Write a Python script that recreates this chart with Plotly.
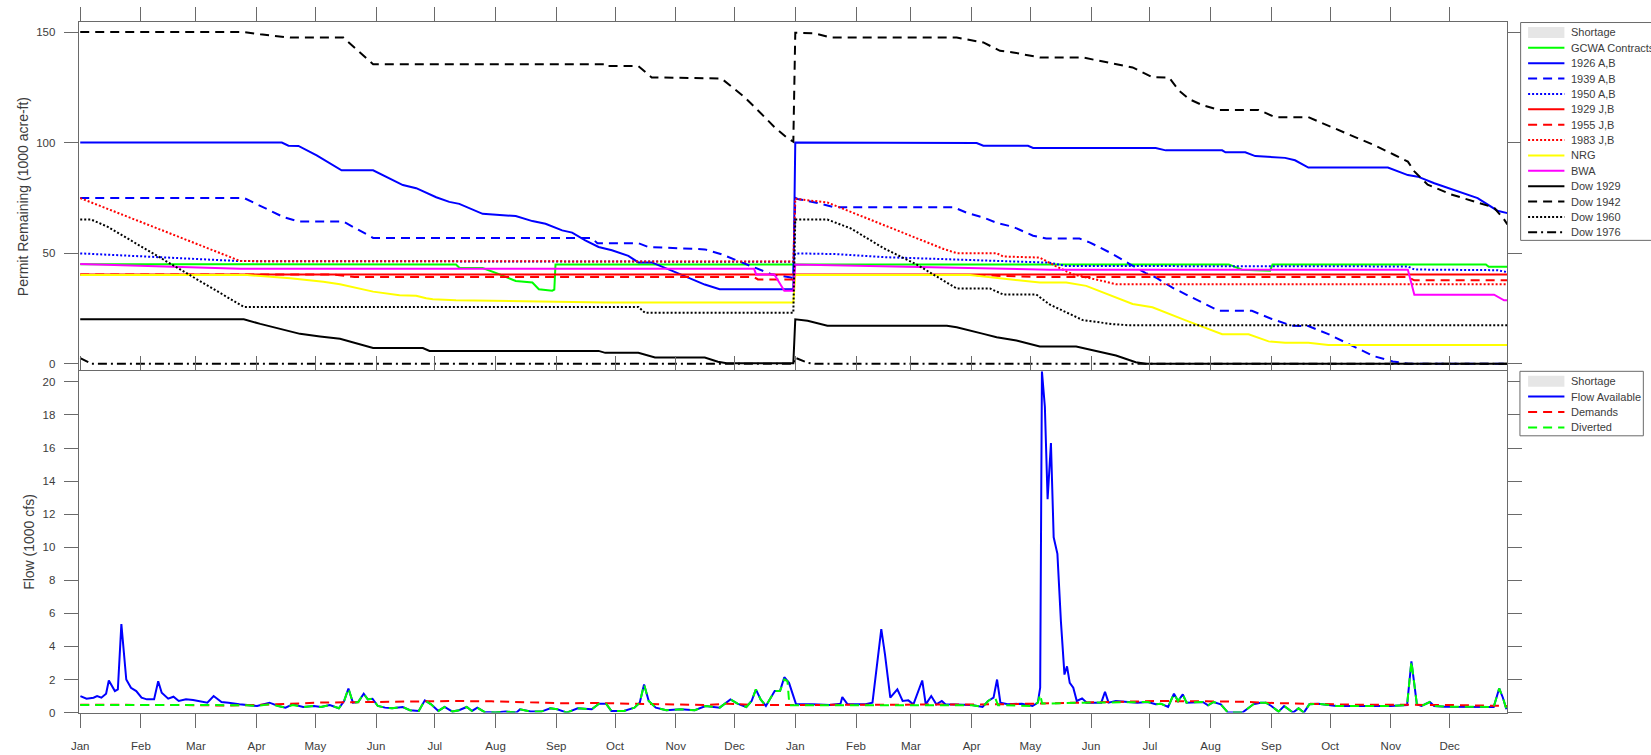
import pandas as pd
import plotly.graph_objects as go

W, H = 1651, 755
START = pd.Timestamp("2014-01-01")


def dates(days):
    return [START + pd.Timedelta(days=float(d)) for d in days]


# ---------------- Permit remaining (1000 acre-ft), day offsets from 1 Jan 2014 ----------------
gcwa_days = [0, 191.8, 193.5, 205.4, 213.8, 222.3, 230.8, 234.1, 240.9, 242.0, 242.6, 364,
             365, 586.3, 593.0, 607.4, 608.6, 717.5, 719.0, 728.5]
gcwa_vals = [45.0, 44.9, 43.4, 43.3, 40.5, 37.4, 36.7, 33.7, 33.0, 33.5, 44.9, 44.9,
             44.9, 44.9, 42.5, 42.1, 44.9, 44.9, 43.8, 43.8]

a1926_days = [0, 102.9, 106.3, 111.4, 120.7, 133.4, 149.5, 157.9, 164.7, 171.5, 173.2, 176.6, 181.7,
              188.4, 193.5, 205.4, 222.3, 230.8, 237.5, 246.0, 251.1, 257.8, 264.6, 271.4, 279.8,
              284.9, 291.7, 301.9, 312.0, 318.8, 326.4, 364,
              365, 457.6, 461.0, 483.8, 486.4, 549.0, 554.1, 582.9, 584.6, 594.7, 599.8, 615.0,
              620.1, 626.9, 667.5, 677.7, 682.8, 691.2, 713.3, 723.4, 728.5]
a1926_vals = [100, 100, 98.6, 98.5, 94.2, 87.5, 87.5, 83.8, 80.8, 79.4, 78.7, 77.1, 75.3,
              73.2, 72.3, 67.8, 66.8, 64.5, 63.3, 60.3, 59.3, 55.8, 52.8, 51.3, 48.8,
              45.8, 45.8, 42.1, 38.4, 35.8, 33.7, 33.7,
              100, 99.8, 98.6, 98.6, 97.6, 97.6, 96.5, 96.5, 95.6, 95.6, 93.9, 93.1,
              92.0, 88.7, 88.7, 85.3, 84.6, 81.6, 74.9, 69.2, 68.1]

a1939_days = [0, 83.5, 103.8, 111.4, 134.3, 149.5, 261.0, 264.0, 284.9, 290.0, 318.8, 327.3, 335.7,
              345.9, 352.7, 362.8, 364,
              365, 366.2, 376.3, 384.8, 445.8, 452.5, 461.0, 467.8, 476.2, 486.4, 493.1, 510.1,
              515.2, 525.3, 535.5, 543.9, 549.0, 557.5, 567.6, 581.2, 598.1, 608.3, 618.4, 626.9,
              637.1, 648.9, 660.0, 670.0, 678.0, 728.5]
a1939_vals = [75, 75, 66.3, 64.3, 64.3, 56.9, 56.9, 54.5, 54.5, 52.8, 51.7, 49.5, 46.5,
              42.8, 40.5, 39.0, 38.5,
              75, 74.5, 72.7, 70.8, 70.8, 68.3, 66.1, 63.7, 61.9, 57.9, 56.6, 56.6,
              54.9, 50.4, 45.2, 41.0, 39.0, 34.4, 29.9, 23.9, 23.9, 20.2, 17.2, 17.0,
              13.4, 8.2, 3.5, 1.0, 0, 0]

a1950_days = [0, 81.8, 364, 365, 384.8, 410.2, 444.1, 494.8, 503.3, 677.7, 681.0, 723.4, 728.5]
a1950_vals = [49.9, 46.4, 46.1, 49.9, 49.6, 48.2, 47.2, 45.7, 44.2, 44.0, 42.6, 42.3, 41.4]

j1929_days = [0, 364, 365, 728.5]
j1929_vals = [40.3, 40.3, 40.3, 40.3]

j1955_days = [0, 130, 140, 344.0, 345.9, 364, 365, 455, 490, 677.7, 681.0, 728.5]
j1955_vals = [40.3, 40.3, 39.2, 39.2, 38.1, 38.1, 40.1, 40.1, 39.2, 39.2, 37.7, 37.7]

j1983_days = [0, 81.8, 364, 365, 381.4, 393.3, 410.2, 427.1, 440.7, 447.4, 467.8, 471.1, 489.8,
              498.2, 506.7, 521.9, 528.7, 728.5]
j1983_vals = [74.9, 46.4, 46.2, 74.6, 72.9, 68.7, 62.7, 56.7, 51.9, 50.0, 50.0, 48.5, 48.0,
              44.0, 40.4, 37.4, 35.9, 35.9]

nrg_days = [0, 85.2, 107.2, 124.1, 132.6, 149.5, 163.0, 171.5, 176.6, 180.0, 191.8, 234.1, 268.0, 364,
            365, 454.2, 489.8, 503.3, 513.5, 537.2, 547.3, 564.3, 582.9, 596.4, 606.6, 615.0, 626.9,
            637.1, 728.5]
nrg_vals = [40.1, 40.1, 38.6, 37.1, 35.9, 32.6, 31.0, 30.7, 29.6, 29.2, 28.7, 28.1, 27.7, 27.7,
            40.1, 40.1, 36.7, 36.7, 35.2, 27.0, 25.5, 19.6, 13.3, 13.3, 10.1, 9.5, 9.5,
            8.5, 8.5]

bwa_days = [0, 81.8, 344.0, 345.0, 354.3, 359.4, 364, 365, 495, 677.7, 681.0, 721.7, 726.8, 728.5]
bwa_vals = [45.1, 42.9, 42.9, 40.4, 40.4, 33.0, 33.0, 44.9, 42.5, 42.5, 31.2, 31.2, 28.7, 28.7]

dow1929_days = [0, 83.5, 91.9, 103.8, 112.2, 122.4, 132.6, 149.5, 174.9, 178.3, 264.6, 268.0, 284.9,
                293.4, 318.8, 325.5, 330.0, 364,
                365, 371.3, 381.4, 442.4, 447.4, 461.0, 467.8, 477.9, 489.8, 508.4, 520.3, 528.7,
                538.8, 543.9, 728.5]
dow1929_vals = [20.1, 20.1, 18.0, 15.5, 13.5, 12.3, 11.3, 7.1, 7.1, 5.8, 5.8, 4.9, 4.9,
                2.8, 2.8, 0.9, 0.2, 0.2,
                20.1, 19.4, 17.2, 17.2, 16.5, 13.5, 12.0, 10.5, 7.8, 7.8, 5.2, 3.7,
                0.7, 0, 0]

dow1942_days = [0, 83.5, 91.9, 107.2, 134.3, 149.5, 268.0, 268.5, 284.9, 291.7, 327.3, 339.1, 344.2,
                349.3, 354.3, 361.1, 364,
                365, 374.7, 383.1, 447.4, 461.0, 469.5, 476.2, 489.8, 511.8, 520.3, 537.2, 547.3,
                555.8, 560.9, 566.0, 572.7, 581.2, 601.5, 609.9, 626.9, 637.1, 648.9, 660.6, 670.9,
                677.7, 681.0, 687.8, 699.7, 713.3, 721.7, 726.8, 728.5]
dow1942_vals = [150, 150, 149.0, 147.5, 147.5, 135.5, 135.5, 134.6, 134.6, 129.5, 129.0, 120.6, 116.1,
                111.6, 107.1, 101.9, 100.4,
                149.7, 149.5, 147.5, 147.5, 145.3, 141.5, 140.8, 138.5, 138.5, 137.0, 134.0, 129.6,
                129.4, 123.5, 119.7, 117.0, 114.8, 114.8, 111.5, 111.5, 107.6, 103.3, 98.8, 94.4,
                91.4, 87.0, 81.0, 76.6, 72.8, 70.6, 65.3, 63.0]

dow1960_days = [0, 5.6, 14.1, 83.5, 284.9, 288.3, 364,
                365, 381.4, 393.3, 410.2, 427.1, 447.4, 464.4, 471.1, 488.0, 494.8, 511.8, 527.0,
                535.0, 728.5]
dow1960_vals = [65.2, 65.2, 61.9, 25.7, 25.7, 23.0, 23.0,
                65.2, 65.2, 61.2, 52.2, 44.8, 34.0, 34.0, 31.3, 31.3, 26.8, 19.7, 17.9,
                17.4, 17.4]

dow1976_days = [0, 5.6, 364, 365, 371.3, 375, 728.5]
dow1976_vals = [2.5, 0, 0, 2.7, 0.4, 0, 0]

# ---------------- Flow (1000 cfs) ----------------
flow_days = [0.1, 3.2, 6.8, 8.6, 10.8, 13.2, 14.6, 17.7, 19.2, 21.0, 23.5, 25.9, 28.6, 31.3, 34.0,
             37.7, 39.8, 41.6, 44.9, 47.6, 50.3, 54.0, 57.6, 61.2, 64.9, 68.1, 72.1, 75.7, 81.2,
             90.3, 96.6, 101.1, 104.8, 108.4, 113.8, 119.3, 122.9, 127.4, 132.0, 134.7, 136.9,
             139.2, 141.9, 144.7, 146.8, 149.2, 151.9, 155.6, 159.2, 164.6, 168.3, 172.8, 175.9,
             179.1, 182.8, 186.0, 190.0, 193.3, 197.3, 200.0, 202.7, 206.3, 211.8, 217.2, 222.7,
             224.5, 229.9, 235.4, 239.9, 243.5, 248.4, 253.9, 261.1, 264.8, 268.4, 271.1, 277.5,
             282.9, 285.6, 287.8, 290.2, 293.8, 299.2, 306.5, 313.7, 319.2, 326.4, 331.9, 335.5,
             340.0, 342.7, 344.9, 347.3, 350.0, 354.5, 357.2, 359.4, 361.8, 364.5, 365.4, 373.6,
             382.6, 388.1, 389.0, 391.7, 400.8, 404.4, 406.2, 408.9, 410.8, 413.5, 417.1, 419.8,
             422.7, 425.3, 429.8, 431.6, 434.4, 437.0, 439.8, 441.6, 455.2, 460.6, 463.4, 466.2,
             468.0, 469.7, 473.4, 480.6, 486.1, 488.8, 490.0, 490.9, 492.4, 493.8, 495.5, 496.9,
             498.8, 500.6, 502.4, 503.7, 505.1, 506.9, 508.7, 511.4, 513.8, 517.5, 521.2, 523.1,
             524.9, 528.6, 534.1, 539.6, 545.1, 548.9, 551.6, 555.3, 558.3, 560.4, 562.8, 564.7,
             573.0, 575.7, 578.5, 582.2, 585.9, 593.2, 598.8, 602.5, 605.2, 608.0, 611.7, 614.5,
             619.1, 621.9, 624.6, 627.4, 632.0, 641.2, 650.5, 659.7, 668.9, 677.3, 679.5, 682.3,
             684.6, 688.9, 691.1, 696.6, 705.8, 715.1, 721.5, 724.3, 726.2, 728.0]
flow_vals = [1.0, 0.84, 0.9, 1.0, 0.9, 1.14, 1.94, 1.3, 1.4, 5.35, 2.0, 1.5, 1.3, 0.9, 0.8,
             0.8, 1.9, 1.2, 0.84, 0.96, 0.7, 0.8, 0.76, 0.66, 0.6, 1.0, 0.64, 0.6, 0.5,
             0.4, 0.6, 0.4, 0.3, 0.5, 0.34, 0.4, 0.34, 0.46, 0.26, 0.7, 1.46,
             0.6, 0.64, 1.14, 0.8, 0.84, 0.4, 0.3, 0.26, 0.34, 0.14, 0.1, 0.74,
             0.5, 0.1, 0.34, 0.06, 0.14, 0.34, 0.1, 0.3, 0.04, 0.0, 0.06, 0.0,
             0.2, 0.06, 0.06, 0.26, 0.2, 0.0, 0.26, 0.2, 0.54, 0.54, 0.1, 0.1,
             0.3, 0.6, 1.7, 0.7, 0.3, 0.14, 0.2, 0.14, 0.4, 0.3, 0.8, 0.54,
             0.34, 0.7, 1.4, 0.8, 0.4, 1.3, 1.3, 2.14, 1.8, 0.9, 0.5, 0.5,
             0.46, 0.54, 0.94, 0.5, 0.5, 0.6, 2.5, 5.05, 3.5, 0.9, 1.4, 0.7,
             0.74, 0.5, 1.94, 0.5, 1.0, 0.5, 0.7, 0.5, 0.46, 0.34, 0.7, 0.9,
             2.0, 0.6, 0.5, 0.54, 0.4, 0.6, 1.5, 20.64, 18.5, 12.9, 16.3, 10.6,
             9.6, 5.5, 2.3, 2.8, 1.8, 1.5, 0.7, 0.86, 0.6, 0.6, 0.6, 1.26,
             0.6, 0.7, 0.64, 0.6, 0.64, 0.5, 0.54, 0.34, 1.14, 0.7, 1.1, 0.6,
             0.64, 0.44, 0.64, 0.5, 0.0, 0.0, 0.5, 0.6, 0.6, 0.4, 0.06, 0.4,
             0.0, 0.26, 0.0, 0.5, 0.54, 0.4, 0.4, 0.4, 0.4, 0.46, 3.1, 0.5,
             0.4, 0.64, 0.4, 0.36, 0.34, 0.34, 0.34, 1.46, 0.9, 0.2]

demand_days = [0, 30, 60, 75, 90, 105, 120, 145, 165, 190, 210, 228, 248, 262, 280, 300, 320, 330,
               345, 364, 380, 420, 440, 470, 490, 520, 550, 575, 592, 609, 626, 650, 700, 728.5]
demand_vals = [0.48, 0.48, 0.45, 0.42, 0.46, 0.52, 0.6, 0.64, 0.64, 0.7, 0.68, 0.64, 0.56, 0.58,
               0.55, 0.48, 0.46, 0.54, 0.46, 0.46, 0.46, 0.46, 0.5, 0.5, 0.55, 0.62, 0.7, 0.68,
               0.66, 0.58, 0.52, 0.48, 0.46, 0.4]

diverted_days = [0, 30, 60, 85, 90.3, 96.6, 101.1, 104.8, 108.4, 113.8, 119.3, 122.9, 127.4, 132.0,
                 134.7, 136.9, 139.2, 141.9, 144.7, 146.8, 149.2, 151.9, 155.6, 159.2, 164.6, 168.3,
                 172.8, 175.9, 179.1, 182.8, 186.0, 190.0, 193.3, 197.3, 200.0, 202.7, 206.3, 211.8,
                 217.2, 222.7, 224.5, 229.9, 235.4, 239.9, 243.5, 248.4, 253.9, 261.1, 264.8, 268.4,
                 271.1, 277.5, 282.9, 285.6, 287.8, 290.2, 293.8, 299.2, 306.5, 313.7, 319.2, 326.4,
                 331.9, 335.5, 340.0, 342.7, 344.9, 347.3, 350.0, 354.5, 357.2, 359.4, 361.0, 362.0,
                 365.4, 400.0, 455.2, 460.6, 463.4, 466.2, 467.0, 468.5, 486.1, 488.8, 490.0, 491.0,
                 495.0, 512.0, 521.2, 524.9, 528.6, 534.1, 539.6, 545.1, 548.9, 551.6, 555.3, 558.3,
                 560.4, 562.8, 564.7, 573.0, 575.7, 578.5, 582.2, 585.9, 593.2, 598.8, 602.5, 605.2,
                 608.0, 611.7, 614.5, 619.1, 621.9, 624.6, 627.4, 632.0, 641.2, 650.5, 659.7, 668.9,
                 677.3, 679.5, 682.3, 684.6, 688.9, 691.1, 696.6, 705.8, 715.1, 721.5, 724.3, 726.2,
                 728.0]
diverted_vals = [0.46, 0.46, 0.45, 0.45, 0.4, 0.5, 0.4, 0.3, 0.46, 0.34, 0.4, 0.34, 0.46, 0.26,
                 0.7, 1.46, 0.6, 0.64, 1.14, 0.8, 0.84, 0.4, 0.3, 0.26, 0.34, 0.14,
                 0.1, 0.74, 0.5, 0.1, 0.34, 0.06, 0.14, 0.34, 0.1, 0.3, 0.04, 0.0,
                 0.06, 0.0, 0.2, 0.06, 0.06, 0.26, 0.2, 0.0, 0.26, 0.2, 0.54, 0.54,
                 0.1, 0.1, 0.3, 0.6, 1.7, 0.7, 0.3, 0.14, 0.2, 0.14, 0.4, 0.3,
                 0.8, 0.54, 0.34, 0.7, 1.4, 0.8, 0.4, 1.3, 1.3, 2.0, 1.9, 0.45,
                 0.45, 0.45, 0.45, 0.34, 0.7, 0.9, 0.9, 0.45, 0.4, 0.6, 1.1, 0.55,
                 0.55, 0.6, 0.6, 0.6, 0.62, 0.64, 0.6, 0.64, 0.5, 0.54, 0.34, 1.14,
                 0.7, 1.1, 0.6, 0.64, 0.44, 0.64, 0.5, 0.0, 0.0, 0.5, 0.6, 0.6,
                 0.4, 0.06, 0.4, 0.0, 0.26, 0.0, 0.5, 0.54, 0.4, 0.4, 0.4, 0.4,
                 0.46, 3.1, 0.5, 0.4, 0.64, 0.4, 0.36, 0.34, 0.34, 0.34, 1.46, 0.9,
                 0.2]

permit_ticks = [0, 50, 100, 150]

# ---------------- styling ----------------
SOLID, DASH, DOT, DASHDOT = "solid", "9px,6px", "2px,2px", "9px,4px,2px,4px"
GREEN, BLUE, RED, YELLOW, MAGENTA, BLACK = "#00ff00", "#0000ff", "#ff0000", "#ffff00", "#ff00ff", "#000000"
FONT = "Liberation Sans, Arial, Helvetica, sans-serif"
TEXT_C = "#3c3c3c"
AXIS_C = "#6a6a6a"
SHORTAGE_C = "#e6e6e6"

permit_series = [
    ("GCWA Contracts", gcwa_days, gcwa_vals, GREEN, SOLID),
    ("1926 A,B", a1926_days, a1926_vals, BLUE, SOLID),
    ("1939 A,B", a1939_days, a1939_vals, BLUE, DASH),
    ("1950 A,B", a1950_days, a1950_vals, BLUE, DOT),
    ("1929 J,B", j1929_days, j1929_vals, RED, SOLID),
    ("1955 J,B", j1955_days, j1955_vals, RED, DASH),
    ("1983 J,B", j1983_days, j1983_vals, RED, DOT),
    ("NRG", nrg_days, nrg_vals, YELLOW, SOLID),
    ("BWA", bwa_days, bwa_vals, MAGENTA, SOLID),
    ("Dow 1929", dow1929_days, dow1929_vals, BLACK, SOLID),
    ("Dow 1942", dow1942_days, dow1942_vals, BLACK, DASH),
    ("Dow 1960", dow1960_days, dow1960_vals, BLACK, DOT),
    ("Dow 1976", dow1976_days, dow1976_vals, BLACK, DASHDOT),
]

flow_series = [
    ("Flow Available", flow_days, flow_vals, BLUE, SOLID),
    ("Demands", demand_days, demand_vals, RED, DASH),
    ("Diverted", diverted_days, diverted_vals, GREEN, DASH),
]

fig = go.Figure()
for name, d, v, c, dash in permit_series:
    fig.add_trace(go.Scatter(x=dates(d), y=v, name=name, mode="lines", xaxis="x", yaxis="y",
                             line=dict(color=c, width=2, dash=dash), showlegend=False))
for name, d, v, c, dash in flow_series:
    fig.add_trace(go.Scatter(x=dates(d), y=v, name=name, mode="lines", xaxis="x2", yaxis="y2",
                             line=dict(color=c, width=2, dash=dash), showlegend=False))

# ---------------- layout (pixel geometry) ----------------
def fx(px):
    return px / W


def fy(py):
    return 1 - py / H


x_left, x_right = 71.0, 1506.7
top_y0, top_y1 = 22.3, 373.3
bot_y0, bot_y1 = 374.3, 718.3
x_range = [START + pd.Timedelta(days=-0.8), START + pd.Timedelta(days=728.5)]

axis_style = dict(showline=True, linecolor=AXIS_C, linewidth=1, ticks="outside", ticklen=14,
                  tickcolor=AXIS_C, tickwidth=1, showgrid=False, zeroline=False,
                  tickfont=dict(family=FONT, size=11.5, color=TEXT_C))

fig.update_layout(
    width=W, height=H, margin=dict(l=0, r=0, t=0, b=0),
    paper_bgcolor="white", plot_bgcolor="white", showlegend=False,
    font=dict(family=FONT, color=TEXT_C),
    xaxis=dict(axis_style, domain=[fx(x_left), fx(x_right)], anchor="y", type="date", range=x_range,
               side="top", showticklabels=False, mirror=True, dtick="M1", tick0="2014-01-01"),
    yaxis=dict(axis_style, domain=[fy(top_y1), fy(top_y0)], anchor="x", range=[-3, 154.5],
               tickvals=permit_ticks, mirror="ticks", ticklabelstandoff=6),
    xaxis2=dict(axis_style, domain=[fx(x_left), fx(x_right)], anchor="y2", type="date", range=x_range,
                side="bottom", mirror="ticks", dtick="M1", tick0="2014-01-01", tickformat="%b",
                ticklabelstandoff=9),
    yaxis2=dict(axis_style, domain=[fy(bot_y1), fy(bot_y0)], anchor="x2", range=[0, 20.64],
                dtick=2, tick0=0, mirror="ticks", ticklabelstandoff=6),
)

annotations = [
    dict(text="Permit Remaining (1000 acre-ft)", x=fx(15), y=fy((top_y0 + top_y1) / 2),
         xref="paper", yref="paper", textangle=-90, showarrow=False,
         font=dict(family=FONT, size=14, color=TEXT_C), xanchor="center", yanchor="middle"),
    dict(text="Flow (1000 cfs)", x=fx(21), y=fy((bot_y0 + bot_y1) / 2),
         xref="paper", yref="paper", textangle=-90, showarrow=False,
         font=dict(family=FONT, size=14, color=TEXT_C), xanchor="center", yanchor="middle"),
]
shapes = []


def draw_legend(entries, box, first_row, pitch=15.5):
    x0, y0, x1, y1 = box
    shapes.append(dict(type="rect", xref="paper", yref="paper", x0=fx(x0), x1=fx(x1),
                       y0=fy(y1), y1=fy(y0), line=dict(color=AXIS_C, width=1), fillcolor="white",
                       layer="above"))
    for i, (label, color, dash) in enumerate(entries):
        yc = first_row + i * pitch
        if color is None:
            shapes.append(dict(type="rect", xref="paper", yref="paper", x0=fx(1527.5), x1=fx(1564),
                               y0=fy(yc + 5.5), y1=fy(yc - 5.5), line=dict(width=0),
                               fillcolor=SHORTAGE_C, layer="above"))
        else:
            shapes.append(dict(type="line", xref="paper", yref="paper", x0=fx(1527.5), x1=fx(1564),
                               y0=fy(yc), y1=fy(yc), line=dict(color=color, width=2, dash=dash),
                               layer="above"))
        annotations.append(dict(text=label, x=fx(1568.3), y=fy(yc), xref="paper", yref="paper",
                                showarrow=False, xanchor="left", yanchor="middle",
                                font=dict(family=FONT, size=11, color=TEXT_C)))


draw_legend([("Shortage", None, None)] + [(n, c, d) for n, _, _, c, d in permit_series],
            (1520, 22.7, 1700, 242.3), 32.7)
draw_legend([("Shortage", None, None)] + [(n, c, d) for n, _, _, c, d in flow_series],
            (1519.3, 374.3, 1643.3, 439.3), 384.3)

fig.update_layout(annotations=annotations, shapes=shapes)
fig.write_html("out.html")
